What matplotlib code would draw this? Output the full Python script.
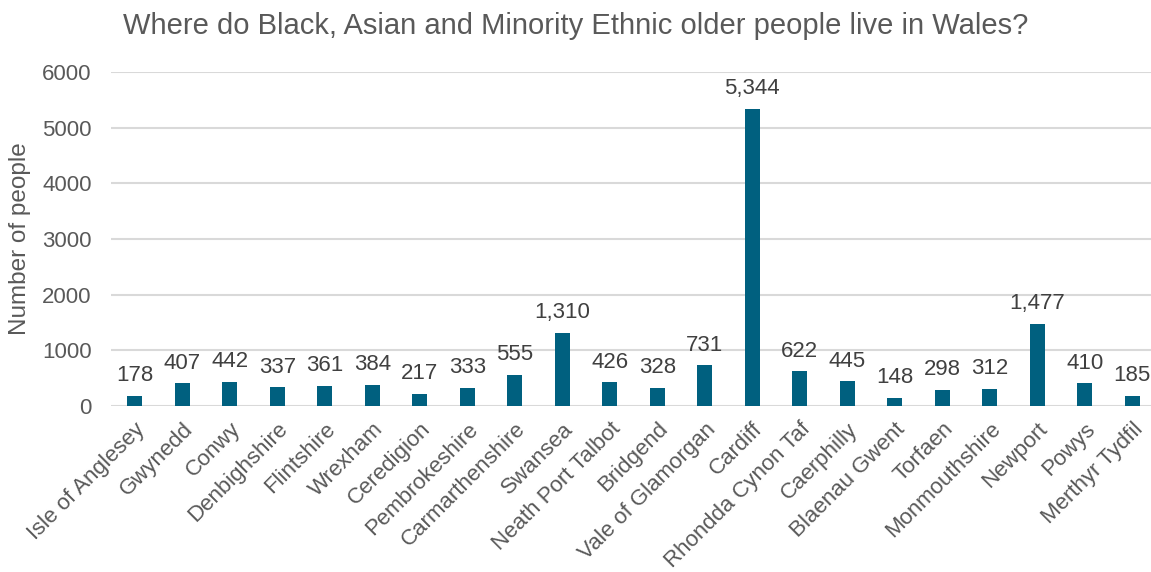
import matplotlib.pyplot as plt
import numpy as np

plt.rcParams['font.family'] = ['Liberation Sans', 'DejaVu Sans']

areas = ['Isle of Anglesey', 'Gwynedd', 'Conwy', 'Denbighshire', 'Flintshire',
         'Wrexham', 'Ceredigion', 'Pembrokeshire', 'Carmarthenshire', 'Swansea',
         'Neath Port Talbot', 'Bridgend', 'Vale of Glamorgan', 'Cardiff',
         'Rhondda Cynon Taf', 'Caerphilly', 'Blaenau Gwent', 'Torfaen',
         'Monmouthshire', 'Newport', 'Powys', 'Merthyr Tydfil']
people = [178, 407, 442, 337, 361, 384, 217, 333, 555, 1310, 426, 328, 731,
          5344, 622, 445, 148, 298, 312, 1477, 410, 185]

bar_colour = '#00607f'
text_grey = '#595959'
label_grey = '#404040'
grid_grey = '#d9d9d9'

fig = plt.figure(figsize=(11.51, 5.72), dpi=100)
ax = fig.add_axes([0.0964, 0.290, 0.908, 0.584])

x = np.arange(len(areas))
bars = ax.bar(x, people, width=0.31, color=bar_colour, zorder=3)

for xi, v in zip(x, people):
    ax.annotate(f'{v:,}', (xi, v), xytext=(0, 7), textcoords='offset points',
                ha='center', va='bottom', fontsize=16, color=label_grey)

ax.set_xlim(-0.5, len(areas) - 0.5)
ax.set_ylim(0, 6000)
ax.set_yticks(range(0, 6001, 1000))
ax.yaxis.grid(True, color=grid_grey, linewidth=1.5, zorder=0)
ax.set_axisbelow(True)
for s in ax.spines.values():
    s.set_visible(False)

ax.set_xticks(x)
ax.set_xticklabels(areas, rotation=45, ha='right', rotation_mode='anchor',
                   fontsize=16, color=text_grey)
ax.tick_params(axis='x', length=0, pad=9)
ax.tick_params(axis='y', length=0, pad=14, labelsize=16, labelcolor=text_grey)

ax.set_ylabel('Number of people', fontsize=17.5, color=text_grey, labelpad=8)
fig.text(0.5, 0.955, 'Where do Black, Asian and Minority Ethnic older people live in Wales?',
         ha='center', va='center', fontsize=21, color=text_grey)

fig.savefig('out.png', dpi=100)
